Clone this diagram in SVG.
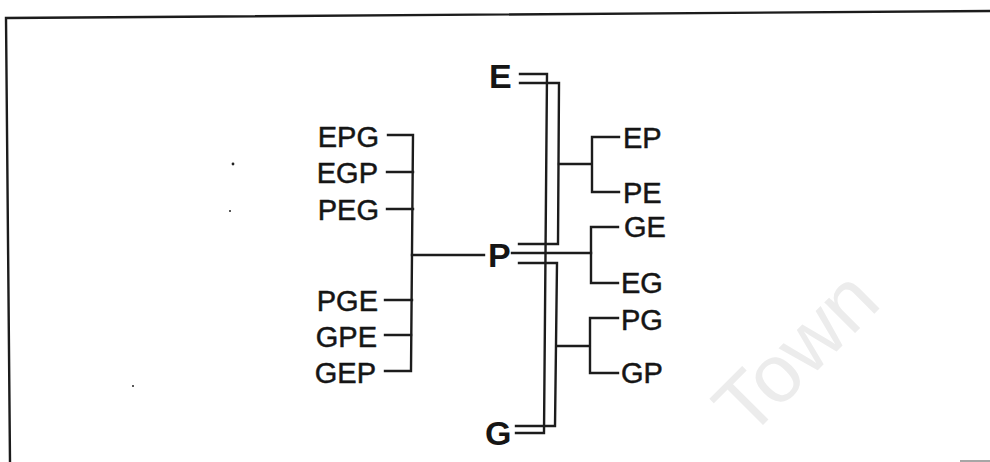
<svg xmlns="http://www.w3.org/2000/svg" width="990" height="462" viewBox="0 0 990 462">
<style>
.ln{stroke:#1c1c1c;stroke-width:2.4;fill:none;stroke-linecap:square}
.lb{font-family:"Liberation Sans",Arial,sans-serif;font-size:29px;fill:#151515;stroke:#151515;stroke-width:0.5}
.big{font-family:"Liberation Sans",Arial,sans-serif;font-size:34px;font-weight:bold;fill:#151515}
.wm{font-family:"Liberation Sans",Arial,sans-serif;font-size:82px;fill:#ececec}
</style>
<rect width="990" height="462" fill="#fff"/>
<text class="wm" transform="translate(748,440) rotate(-45)">Town</text>
<g id="frame">
<path class="ln" d="M990 11 L6 18 L10 462"/>
<line x1="960" y1="461" x2="990" y2="461" stroke="#888" stroke-width="1.5"/>
<circle cx="233" cy="164" r="1.4" fill="#222"/>
<circle cx="230" cy="211" r="1" fill="#222"/>
<circle cx="133" cy="386" r="1" fill="#222"/>
</g>
<g id="connectors">
<path class="ln" d="M388 135 L413 135 L411 371 L385 371"/>
<path class="ln" d="M387 172 L413 172 M387 209 L413 209 M385 300 L412 300 M385 335 L411 335 M412 255 L484 255"/>
<path class="ln" d="M520 74 L547 74 L544 433 L516 433"/>
<path class="ln" d="M520 83 L559 83 L558 244 L519 244"/>
<path class="ln" d="M519 263 L557 263 L555 426 L516 426"/>
<path class="ln" d="M512 253 L591 253"/>
<path class="ln" d="M559 164 L592 164 M619 137 L592 137 L592 192 L619 192"/>
<path class="ln" d="M618 227 L591 227 L591 283 L618 283"/>
<path class="ln" d="M557 346 L590 346 M618 318 L590 318 L590 373 L618 373"/>
</g>
<g id="node-E"><text class="big" x="489" y="88">E</text></g>
<g id="node-P"><text class="big" x="488" y="267">P</text></g>
<g id="node-G"><text class="big" x="485" y="445">G</text></g>
<g id="node-EPG"><text class="lb" x="379" y="147" text-anchor="end">EPG</text></g>
<g id="node-EGP"><text class="lb" x="378" y="183" text-anchor="end">EGP</text></g>
<g id="node-PEG"><text class="lb" x="379" y="220" text-anchor="end">PEG</text></g>
<g id="node-PGE"><text class="lb" x="378" y="311" text-anchor="end">PGE</text></g>
<g id="node-GPE"><text class="lb" x="377" y="347" text-anchor="end">GPE</text></g>
<g id="node-GEP"><text class="lb" x="376" y="383" text-anchor="end">GEP</text></g>
<g id="node-EP"><text class="lb" x="623" y="148">EP</text></g>
<g id="node-PE"><text class="lb" x="623" y="203">PE</text></g>
<g id="node-GE"><text class="lb" x="624" y="237">GE</text></g>
<g id="node-EG"><text class="lb" x="621" y="293">EG</text></g>
<g id="node-PG"><text class="lb" x="621" y="330">PG</text></g>
<g id="node-GP"><text class="lb" x="621" y="383">GP</text></g>
</svg>
